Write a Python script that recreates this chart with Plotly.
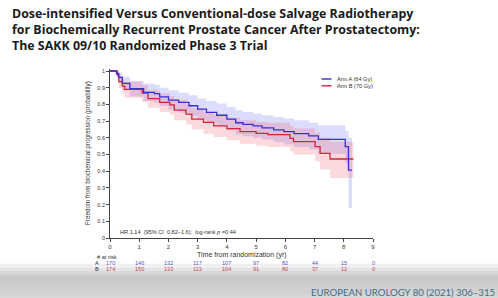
import plotly.graph_objects as go

# ---------------- data ----------------
times_A = [0, 0.22, 0.30, 0.42, 0.68, 1.15, 1.52, 1.70, 2.00, 2.35, 2.70, 3.00, 3.30, 3.65,
           4.00, 4.30, 4.55, 4.90, 5.20, 5.60, 5.95, 6.30, 6.80, 7.13, 8.05, 8.16, 8.28]
surv_A = [1.0, 0.985, 0.962, 0.926, 0.894, 0.872, 0.864, 0.845, 0.826, 0.812, 0.792, 0.772, 0.752, 0.735,
          0.712, 0.690, 0.681, 0.671, 0.660, 0.648, 0.637, 0.625, 0.612, 0.591, 0.547, 0.407, 0.407]
upper_A = [1.0, 1.0, 0.99, 0.965, 0.94, 0.925, 0.918, 0.90, 0.885, 0.87, 0.855, 0.835, 0.82, 0.805,
           0.785, 0.765, 0.755, 0.745, 0.735, 0.725, 0.715, 0.705, 0.69, 0.675, 0.64, 0.60, 0.60]
lower_A = [1.0, 0.965, 0.93, 0.885, 0.848, 0.82, 0.81, 0.79, 0.77, 0.75, 0.73, 0.71, 0.69, 0.67,
           0.645, 0.62, 0.61, 0.60, 0.59, 0.575, 0.56, 0.545, 0.53, 0.505, 0.45, 0.18, 0.18]

times_B = [0, 0.25, 0.30, 0.42, 0.50, 1.10, 1.30, 1.70, 2.05, 2.20, 2.60, 2.80, 3.20, 3.55,
           4.00, 4.45, 5.00, 5.40, 6.16, 6.28, 7.02, 7.19, 7.53, 8.33]
surv_B = [1.0, 0.975, 0.936, 0.91, 0.89, 0.868, 0.835, 0.812, 0.797, 0.766, 0.742, 0.712, 0.692, 0.672,
          0.655, 0.637, 0.627, 0.619, 0.597, 0.577, 0.547, 0.507, 0.473, 0.473]
upper_B = [1.0, 0.995, 0.97, 0.95, 0.935, 0.915, 0.885, 0.865, 0.85, 0.825, 0.80, 0.775, 0.755, 0.738,
           0.72, 0.705, 0.695, 0.69, 0.67, 0.655, 0.63, 0.60, 0.575, 0.575]
lower_B = [1.0, 0.95, 0.895, 0.865, 0.84, 0.815, 0.78, 0.755, 0.74, 0.705, 0.68, 0.65, 0.625, 0.605,
           0.585, 0.565, 0.553, 0.545, 0.52, 0.50, 0.46, 0.41, 0.36, 0.36]

risk_times = [0, 1, 2, 3, 4, 5, 6, 7, 8, 9]
risk_A = [170, 146, 132, 117, 107, 97, 82, 44, 15, 0]
risk_B = [174, 150, 133, 113, 104, 91, 80, 37, 12, 0]

x_ticks = [0, 1, 2, 3, 4, 5, 6, 7, 8, 9]
y_ticks = [0, 0.1, 0.2, 0.3, 0.4, 0.5, 0.6, 0.7, 0.8, 0.9, 1.0]
y_ticktext = ["0", "0.1", "0.2", "0.3", "0.4", "0.5", "0.6", "0.7", "0.8", "0.9", "1"]

name_A = "Arm A (64 Gy)"
name_B = "Arm B (70 Gy)"
title_lines = ["Dose-intensified Versus Conventional-dose Salvage Radiotherapy",
               "for Biochemically Recurrent Prostate Cancer After Prostatectomy:",
               "The SAKK 09/10 Randomized Phase 3 Trial"]
journal = "EUROPEAN UROLOGY 80 (2021) 306–315"

# ---------------- styles ----------------
COL_A = "#3a2fcf"
COL_B = "#d3263a"
FILL_A = "rgba(110,110,245,0.24)"
FILL_B = "rgba(235,80,100,0.22)"
FONT = "Liberation Sans, Arial, sans-serif"

fig = go.Figure()

def band(t, lo, hi, fill):
    fig.add_trace(go.Scatter(x=t, y=lo, mode="lines", line=dict(width=0, shape="hv"),
                             showlegend=False, hoverinfo="skip"))
    fig.add_trace(go.Scatter(x=t, y=hi, mode="lines", line=dict(width=0, shape="hv"),
                             fill="tonexty", fillcolor=fill, showlegend=False, hoverinfo="skip"))

band(times_A, lower_A, upper_A, FILL_A)
band(times_B, lower_B, upper_B, FILL_B)
fig.add_trace(go.Scatter(x=times_B, y=surv_B, mode="lines", name=name_B,
                         line=dict(color=COL_B, width=1.3, shape="hv"), showlegend=False))
fig.add_trace(go.Scatter(x=times_A, y=surv_A, mode="lines", name=name_A,
                         line=dict(color=COL_A, width=1.3, shape="hv"), showlegend=False))

L, R, T, B = 110, 125, 69, 60
W, H = 498, 298
pw, ph = W - L - R, H - T - B

def px(xp):
    return (xp - L) / pw

def py(yp):
    return (H - B - yp) / ph

annotations = []
# titles
for i, line in enumerate(title_lines):
    annotations.append(dict(text="<b>" + line + "</b>", xref="paper", yref="paper",
                            x=px(9.5), y=py(13 + 16.3 * i), xanchor="left", yanchor="middle",
                            showarrow=False, font=dict(family="Open Sans, sans-serif", size=12.4, color="#1b1b1b")))
# axis titles
annotations.append(dict(text="Time from randomization (yr)", xref="paper", yref="paper",
                        x=0.5, y=py(255), xanchor="center", yanchor="middle", showarrow=False,
                        font=dict(family=FONT, size=7, color="#333")))
annotations.append(dict(text="Freedom from biochemical progression (probability)", xref="paper", yref="paper",
                        x=px(88), y=py(153), xanchor="center", yanchor="middle", showarrow=False,
                        textangle=-90, font=dict(family=FONT, size=6.3, color="#333")))
# HR text
annotations.append(dict(text="HR 1.14  (95% CI  0.82–1.6);  log-rank <i>p</i> =0.44", xref="paper", yref="paper",
                        x=px(118), y=py(232), xanchor="left", yanchor="middle", showarrow=False,
                        font=dict(family=FONT, size=5.6, color="#333")))
# legend
for i, (nm, col) in enumerate([(name_A, COL_A), (name_B, COL_B)]):
    yy = 79 + 6.8 * i
    annotations.append(dict(text=nm, xref="paper", yref="paper", x=px(335), y=py(yy),
                            xanchor="left", yanchor="middle", showarrow=False,
                            font=dict(family=FONT, size=5.6, color="#333")))
# at-risk table
annotations.append(dict(text="# at risk", xref="paper", yref="paper", x=px(95), y=py(257),
                        xanchor="left", yanchor="middle", showarrow=False,
                        font=dict(family=FONT, size=5.6, color="#333")))
annotations.append(dict(text="A", xref="paper", yref="paper", x=px(97), y=py(262.8),
                        xanchor="center", yanchor="middle", showarrow=False,
                        font=dict(family=FONT, size=5.6, color="#333")))
annotations.append(dict(text="B", xref="paper", yref="paper", x=px(97), y=py(268.8),
                        xanchor="center", yanchor="middle", showarrow=False,
                        font=dict(family=FONT, size=5.6, color="#333")))
for t, a, b in zip(risk_times, risk_A, risk_B):
    annotations.append(dict(text=str(a), x=t, xref="x", yref="paper", y=py(262.8),
                            xanchor="center", yanchor="middle", showarrow=False,
                            font=dict(family=FONT, size=5.6, color="#5a58c8")))
    annotations.append(dict(text=str(b), x=t, xref="x", yref="paper", y=py(268.8),
                            xanchor="center", yanchor="middle", showarrow=False,
                            font=dict(family=FONT, size=5.6, color="#c4474f")))
# journal
annotations.append(dict(text=journal, xref="paper", yref="paper", x=px(497), y=py(292.5),
                        xanchor="right", yanchor="middle", showarrow=False,
                        font=dict(family="Lato, sans-serif", size=9.6, color="#3e6f82")))

shapes = []
# bottom gradient band
grad = [(264, 252), (268, 240), (271, 228), (274, 216), (277, 206), (280, 201), (284, 202),
        (288, 205), (292, 209), (295, 212), (298, 215)]
prev = 262
for yb, g in grad:
    shapes.append(dict(type="rect", xref="paper", yref="paper", x0=px(0), x1=px(W),
                       y0=py(yb), y1=py(prev), fillcolor=f"rgb({g},{g},{min(g+2,255)})",
                       line=dict(width=0), layer="below"))
    prev = yb
# legend lines
for i, col in enumerate([COL_A, COL_B]):
    yy = 79 + 6.8 * i
    shapes.append(dict(type="line", xref="paper", yref="paper", x0=px(321.5), x1=px(331.5),
                       y0=py(yy), y1=py(yy), line=dict(color=col, width=1.4)))

fig.update_layout(
    width=W, height=H, margin=dict(l=L, r=R, t=T, b=B),
    paper_bgcolor="white", plot_bgcolor="white",
    showlegend=False,
    annotations=annotations, shapes=shapes,
    xaxis=dict(range=[0, 9], tickvals=x_ticks, ticks="outside", ticklen=3, tickwidth=0.8,
               tickcolor="#444", showline=True, linecolor="#444", linewidth=0.8, showgrid=False,
               zeroline=False, tickfont=dict(family=FONT, size=6, color="#333")),
    yaxis=dict(range=[0, 1.012], tickvals=y_ticks, ticktext=y_ticktext, ticks="outside", ticklen=3,
               tickwidth=0.8, tickcolor="#444", showline=True, linecolor="#444", linewidth=0.8,
               showgrid=False, zeroline=False, tickfont=dict(family=FONT, size=5.5, color="#333")),
)

fig.write_html("out.html")
